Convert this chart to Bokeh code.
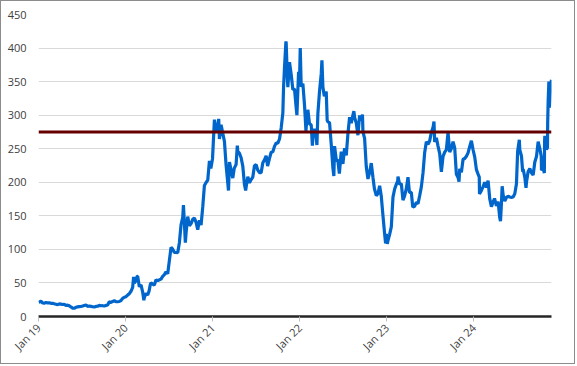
import pandas as pd
from math import pi
from bokeh.plotting import figure
from bokeh.models import Span, FixedTicker, DatetimeTickFormatter, Range1d
from bokeh.embed import file_html
from bokeh.resources import INLINE

# ---- data ----
dates = [
    "2019-01-02", "2019-01-11", "2019-01-18", "2019-01-25", "2019-02-01", "2019-02-08", "2019-02-15",
    "2019-02-22", "2019-03-01", "2019-03-08", "2019-03-15", "2019-03-22", "2019-03-29", "2019-04-05",
    "2019-04-12", "2019-04-19", "2019-04-26", "2019-05-03", "2019-05-10", "2019-05-17", "2019-05-24",
    "2019-05-31", "2019-06-07", "2019-06-14", "2019-06-21", "2019-06-28", "2019-07-05", "2019-07-12",
    "2019-07-19", "2019-07-26", "2019-08-02", "2019-08-09", "2019-08-16", "2019-08-23", "2019-08-30",
    "2019-09-06", "2019-09-13", "2019-09-20", "2019-09-27", "2019-10-04", "2019-10-11", "2019-10-18",
    "2019-10-25", "2019-11-01", "2019-11-08", "2019-11-15", "2019-11-22", "2019-11-29", "2019-12-06",
    "2019-12-13", "2019-12-20", "2019-12-27",
    "2020-01-03", "2020-01-10", "2020-01-17", "2020-01-24", "2020-01-31", "2020-02-04", "2020-02-07",
    "2020-02-14", "2020-02-19", "2020-02-21", "2020-02-28", "2020-03-06", "2020-03-13", "2020-03-18",
    "2020-03-20", "2020-03-27", "2020-04-03", "2020-04-09", "2020-04-14", "2020-04-17", "2020-04-24",
    "2020-05-01", "2020-05-08", "2020-05-15", "2020-05-22", "2020-05-29", "2020-06-05", "2020-06-12",
    "2020-06-19", "2020-06-26", "2020-07-02", "2020-07-10", "2020-07-13", "2020-07-17", "2020-07-24",
    "2020-07-31", "2020-08-07", "2020-08-14", "2020-08-21", "2020-08-28", "2020-08-31", "2020-09-04",
    "2020-09-08", "2020-09-11", "2020-09-18", "2020-09-25", "2020-10-02", "2020-10-09", "2020-10-16",
    "2020-10-23", "2020-10-30", "2020-11-06", "2020-11-13", "2020-11-20", "2020-11-27", "2020-12-04",
    "2020-12-11", "2020-12-18", "2020-12-24", "2020-12-31",
    "2021-01-08", "2021-01-15", "2021-01-22", "2021-01-26", "2021-01-29", "2021-02-05", "2021-02-12",
    "2021-02-19", "2021-02-26", "2021-03-05", "2021-03-08", "2021-03-12", "2021-03-19", "2021-03-26",
    "2021-04-01", "2021-04-09", "2021-04-14", "2021-04-16", "2021-04-23", "2021-04-30", "2021-05-07",
    "2021-05-14", "2021-05-19", "2021-05-21", "2021-05-28", "2021-06-04", "2021-06-11", "2021-06-18",
    "2021-06-25", "2021-07-02", "2021-07-09", "2021-07-16", "2021-07-23", "2021-07-30", "2021-08-06",
    "2021-08-13", "2021-08-19", "2021-08-27", "2021-09-03", "2021-09-10", "2021-09-17", "2021-09-24",
    "2021-10-01", "2021-10-08", "2021-10-15", "2021-10-22", "2021-10-25", "2021-10-29", "2021-11-04",
    "2021-11-05", "2021-11-10", "2021-11-12", "2021-11-19", "2021-11-26", "2021-12-03", "2021-12-10",
    "2021-12-17", "2021-12-20", "2021-12-27", "2021-12-31",
    "2022-01-03", "2022-01-07", "2022-01-14", "2022-01-21", "2022-01-27", "2022-01-28", "2022-02-04",
    "2022-02-11", "2022-02-18", "2022-02-23", "2022-02-25", "2022-03-04", "2022-03-11", "2022-03-14",
    "2022-03-18", "2022-03-25", "2022-04-01", "2022-04-04", "2022-04-08", "2022-04-14", "2022-04-22",
    "2022-04-26", "2022-04-29", "2022-05-06", "2022-05-13", "2022-05-20", "2022-05-24", "2022-05-27",
    "2022-06-03", "2022-06-10", "2022-06-16", "2022-06-17", "2022-06-24", "2022-07-01", "2022-07-08",
    "2022-07-15", "2022-07-22", "2022-07-29", "2022-08-05", "2022-08-12", "2022-08-16", "2022-08-19",
    "2022-08-26", "2022-09-02", "2022-09-09", "2022-09-13", "2022-09-21", "2022-09-23", "2022-09-30",
    "2022-10-07", "2022-10-14", "2022-10-21", "2022-10-28", "2022-11-04", "2022-11-10", "2022-11-18",
    "2022-11-25", "2022-12-02", "2022-12-09", "2022-12-16", "2022-12-23", "2022-12-27", "2022-12-30",
    "2023-01-03", "2023-01-06", "2023-01-13", "2023-01-20", "2023-01-27", "2023-02-03", "2023-02-10",
    "2023-02-16", "2023-02-17", "2023-02-24", "2023-03-03", "2023-03-10", "2023-03-17", "2023-03-24",
    "2023-03-31", "2023-04-06", "2023-04-14", "2023-04-20", "2023-04-28", "2023-05-05", "2023-05-12",
    "2023-05-19", "2023-05-26", "2023-06-02", "2023-06-09", "2023-06-16", "2023-06-23", "2023-06-30",
    "2023-07-07", "2023-07-14", "2023-07-18", "2023-07-21", "2023-07-28", "2023-08-04", "2023-08-11",
    "2023-08-18", "2023-08-25", "2023-09-01", "2023-09-08", "2023-09-15", "2023-09-22", "2023-09-29",
    "2023-10-06", "2023-10-13", "2023-10-20", "2023-10-27", "2023-10-31", "2023-11-03", "2023-11-10",
    "2023-11-17", "2023-11-24", "2023-12-01", "2023-12-08", "2023-12-15", "2023-12-22", "2023-12-29",
    "2024-01-05", "2024-01-12", "2024-01-19", "2024-01-24", "2024-01-25", "2024-01-26", "2024-02-02",
    "2024-02-09", "2024-02-16", "2024-02-23", "2024-03-01", "2024-03-08", "2024-03-15", "2024-03-22",
    "2024-03-28", "2024-04-05", "2024-04-12", "2024-04-19", "2024-04-22", "2024-04-26", "2024-04-29",
    "2024-05-03", "2024-05-10", "2024-05-17", "2024-05-24", "2024-05-31", "2024-06-07", "2024-06-14",
    "2024-06-21", "2024-06-28", "2024-07-03", "2024-07-10", "2024-07-12", "2024-07-19", "2024-07-24",
    "2024-07-26", "2024-08-02", "2024-08-07", "2024-08-09", "2024-08-16", "2024-08-23", "2024-08-30",
    "2024-09-06", "2024-09-13", "2024-09-20", "2024-09-27", "2024-10-04", "2024-10-10", "2024-10-11",
    "2024-10-18", "2024-10-23", "2024-10-24", "2024-10-25", "2024-11-01", "2024-11-05", "2024-11-06",
    "2024-11-08", "2024-11-11", "2024-11-13", "2024-11-15", "2024-11-19", "2024-11-22",
]
close = [
    20.7, 23.0, 20.1, 19.9, 20.8, 20.3, 20.5,
    19.6, 19.7, 18.9, 18.3, 17.7, 18.7, 18.5,
    17.9, 18.3, 16.5, 17.0, 15.9, 14.2, 12.6,
    12.3, 13.7, 14.3, 14.8, 14.9, 15.6, 16.4,
    17.2, 15.2, 15.6, 15.1, 14.6, 14.1, 15.0,
    15.3, 16.5, 16.0, 16.1, 15.6, 16.5, 17.1,
    21.9, 20.9, 22.5, 23.5, 22.2, 22.0, 22.4,
    23.8, 27.0, 28.7,
    29.5, 31.9, 34.0, 37.6, 43.4, 59.1, 49.9,
    53.6, 59.9, 60.0, 44.5, 47.0, 36.4, 24.1,
    28.5, 34.3, 32.1, 38.2, 47.8, 50.1, 48.3,
    46.8, 54.7, 53.3, 54.7, 55.7, 59.9, 62.4,
    66.6, 63.8, 80.6, 102.9, 102.0, 100.1, 95.4,
    95.4, 95.0, 110.0, 136.7, 147.6, 166.1, 139.4,
    110.1, 124.2, 148.9, 135.3, 138.4, 144.7, 146.6,
    140.2, 129.3, 143.3, 136.2, 163.2, 195.3, 199.7,
    203.3, 231.7, 220.6, 235.2,
    293.3, 275.4, 282.2, 294.4, 264.5, 285.7, 272.8,
    260.9, 225.2, 199.3, 187.7, 230.1, 218.3, 206.2,
    220.6, 226.8, 254.5, 246.3, 243.3, 236.5, 224.1,
    196.6, 187.7, 193.0, 208.4, 199.3, 204.0, 207.8,
    224.5, 226.2, 218.0, 214.5, 214.4, 229.1, 233.3,
    239.5, 224.2, 235.5, 244.7, 245.4, 253.5, 258.5,
    258.4, 264.5, 281.0, 303.2, 341.6, 371.3, 410.0,
    407.4, 354.5, 341.6, 379.0, 360.6, 338.3, 339.0,
    310.9, 300.0, 364.6, 352.3,
    399.9, 342.3, 346.9, 314.6, 276.4, 282.1, 308.0,
    286.7, 285.7, 254.7, 269.9, 279.7, 265.1, 255.5,
    302.6, 336.3, 361.5, 381.8, 341.8, 328.3, 335.0,
    292.1, 290.3, 288.5, 256.5, 221.3, 209.4, 253.9,
    234.0, 232.2, 213.1, 216.8, 245.7, 227.3, 250.8,
    240.1, 272.2, 297.1, 288.2, 300.0, 306.0, 296.7,
    288.1, 270.2, 299.7, 292.1, 300.8, 275.3, 265.3,
    223.1, 205.0, 214.4, 228.5, 207.5, 190.7, 180.2,
    182.9, 194.9, 179.1, 150.2, 123.2, 109.1, 123.2,
    108.1, 113.1, 122.4, 133.4, 177.9, 190.0, 196.9,
    202.0, 208.3, 196.9, 197.8, 173.4, 180.1, 190.4,
    207.5, 185.1, 185.0, 163.0, 164.3, 170.1, 168.0,
    180.1, 193.2, 214.0, 244.4, 260.5, 256.6, 261.8,
    274.4, 281.4, 290.4, 260.0, 266.4, 253.9, 242.7,
    215.5, 238.6, 245.0, 248.5, 274.4, 244.9, 250.2,
    260.5, 251.1, 212.0, 207.3, 200.8, 220.0, 214.7,
    234.3, 235.5, 238.8, 243.8, 253.5, 262.0, 248.5,
    237.5, 218.9, 212.2, 207.8, 182.6, 183.3, 187.9,
    193.6, 200.0, 192.0, 202.6, 175.3, 163.6, 170.8,
    175.8, 164.9, 171.1, 147.1, 142.1, 168.3, 194.1,
    181.2, 171.9, 177.5, 179.2, 178.1, 177.5, 178.0,
    183.0, 197.9, 246.4, 263.3, 248.2, 239.2, 216.0,
    219.8, 207.7, 191.8, 200.0, 216.1, 220.3, 214.1,
    210.7, 230.3, 238.3, 260.5, 250.1, 238.8, 217.8,
    220.7, 213.7, 260.5, 269.2, 249.0, 251.4, 288.5,
    321.2, 350.0, 311.2, 320.7, 346.0, 352.6,
]
threshold = 275
y_ticks = [0, 50, 100, 150, 200, 250, 300, 350, 400, 450]
x_tick_dates = ["2019-01-01", "2020-01-01", "2021-01-01", "2022-01-01", "2023-01-01", "2024-01-01"]

# ---- figure ----
x = pd.to_datetime(dates)
x_start = pd.Timestamp("2019-01-01")
x_end = pd.Timestamp(dates[-1])

def ms(t):
    return pd.Timestamp(t).value // 10**6

p = figure(
    width=575, height=364,
    x_axis_type="datetime",
    x_range=Range1d(ms(x_start), ms(x_end)),
    y_range=Range1d(0, 450),
    output_backend="svg", toolbar_location=None,
    min_border_left=37, min_border_right=25, min_border_top=13, min_border_bottom=49,
)
p.outline_line_color = None
p.background_fill_color = "white"
p.border_fill_color = "white"
p.styles = {"border": "1px solid #8c8c8c"}

p.line(x, close, line_color="#0066cc", line_width=3.2)
p.add_layout(Span(location=threshold, dimension="width", line_color="#660000", line_width=3))

font = "Open Sans"
lab_col = "#404040"

p.xgrid.grid_line_color = None
p.ygrid.grid_line_color = "#d9d9d9"
p.ygrid.grid_line_width = 1

p.yaxis.ticker = FixedTicker(ticks=y_ticks)
p.yaxis.axis_line_color = None
p.yaxis.major_tick_line_color = None
p.yaxis.minor_tick_line_color = None
p.yaxis.major_label_standoff = 6
p.yaxis.major_label_text_font = font
p.yaxis.major_label_text_font_size = "11px"
p.yaxis.major_label_text_color = lab_col

p.xaxis.ticker = FixedTicker(ticks=[ms(d) for d in x_tick_dates])
fmt = "%b %y"
p.xaxis.formatter = DatetimeTickFormatter(years=fmt, months=fmt, days=fmt, hours=fmt, minutes=fmt)
p.xaxis.axis_line_color = "#262626"
p.xaxis.axis_line_width = 2.5
p.xaxis.major_tick_line_color = "#bfbfbf"
p.xaxis.major_tick_in = 0
p.xaxis.major_tick_out = 5
p.xaxis.minor_tick_line_color = None
p.xaxis.major_label_orientation = pi / 4
p.xaxis.major_label_standoff = 4
p.xaxis.major_label_text_font = font
p.xaxis.major_label_text_font_size = "11px"
p.xaxis.major_label_text_color = lab_col

html = file_html(p, INLINE)
head_end = html.rindex("</head>")
body_pos = html.index("<body", head_end)
html = html[:body_pos] + html[body_pos:].replace("<body>", '<body style="margin:0;padding:0">', 1)
open("out.html", "w").write(html)
